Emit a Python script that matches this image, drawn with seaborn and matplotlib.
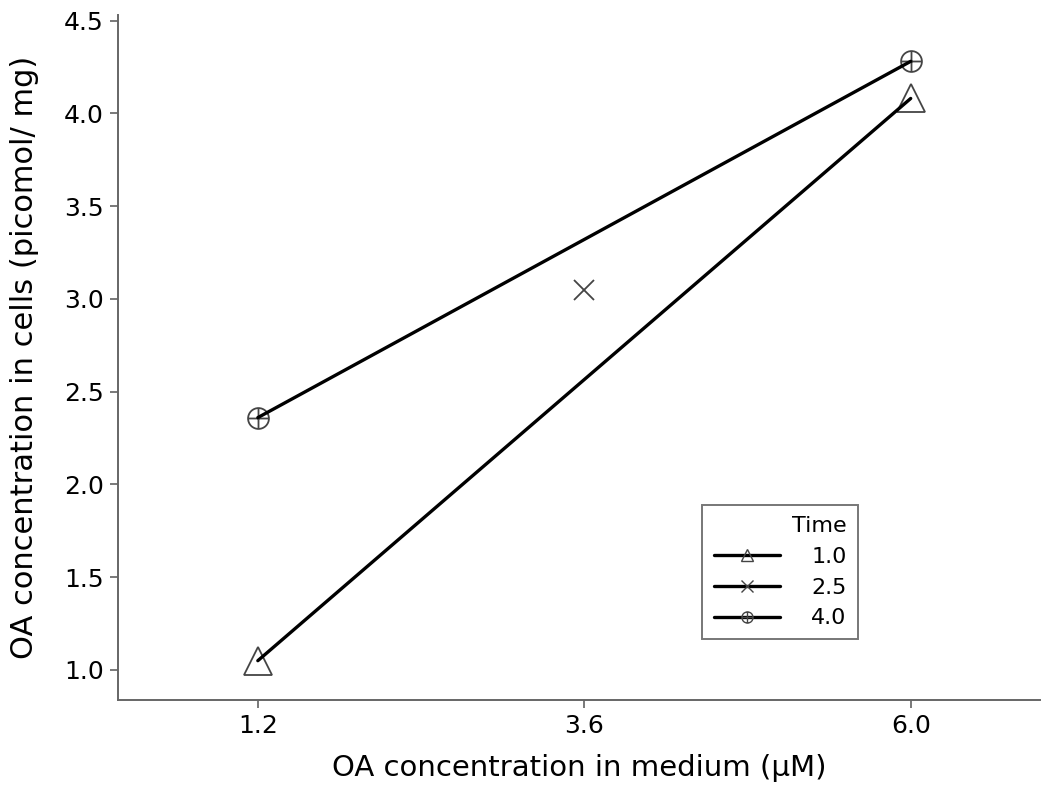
import seaborn as sns
import matplotlib.pyplot as plt
import pandas as pd
from matplotlib.path import Path
from matplotlib.lines import Line2D

# values
medium = [1.2, 6.0, 3.6, 1.2, 6.0]
cells = [1.05, 4.08, 3.05, 2.36, 4.28]
time = [1.0, 1.0, 2.5, 4.0, 4.0]
xticks = [1.2, 3.6, 6.0]
yticks = [1.0, 1.5, 2.0, 2.5, 3.0, 3.5, 4.0, 4.5]

data = pd.DataFrame({'medium': medium, 'cells': cells, 'Time': time})

sns.set_style('ticks')
plt.rcParams['font.family'] = ['DejaVu Sans']
plt.rcParams['text.color'] = 'black'
plt.rcParams['axes.labelcolor'] = 'black'

# circle with a cross inside
oplus = Path.make_compound_path(
    Path.unit_circle(),
    Path([[-1, 0], [1, 0]], [Path.MOVETO, Path.LINETO]),
    Path([[0, -1], [0, 1]], [Path.MOVETO, Path.LINETO]),
)
markers = {1.0: '^', 2.5: 'x', 4.0: oplus}
sizes = {1.0: 20, 2.5: 14, 4.0: 15}

fig = plt.figure(figsize=(10.42, 7.87), dpi=100)
ax = fig.add_axes([0.113, 0.111, 0.885, 0.87])

for t in [1.0, 2.5, 4.0]:
    sub = data[data['Time'] == t]
    ax.plot(sub['medium'], sub['cells'], linestyle='none', marker=markers[t],
            markersize=sizes[t], markerfacecolor='none', markeredgecolor='#444444',
            markeredgewidth=1.3, zorder=2)

sns.lineplot(data=data[data['Time'] != 2.5], x='medium', y='cells', units='Time',
             estimator=None, color='black', linewidth=2.4, ax=ax, zorder=3)

ax.set_xlim(0.17, 6.95)
ax.set_ylim(0.84, 4.53)
ax.set_xticks(xticks)
ax.set_xticklabels([f'{v:.1f}' for v in xticks])
ax.set_yticks(yticks)
ax.set_yticklabels([f'{v:.1f}' for v in yticks])
ax.tick_params(labelsize=18, length=6, width=1.1, color='#555555', labelcolor='black', pad=4)
ax.set_xlabel('OA concentration in medium (µM)', fontsize=21, labelpad=12)
ax.set_ylabel('OA concentration in cells (picomol/ mg)', fontsize=22, labelpad=18)
sns.despine(ax=ax)
for s in ['left', 'bottom']:
    ax.spines[s].set_color('#666666')
    ax.spines[s].set_linewidth(1.4)

handles = []
for t in [1.0, 2.5, 4.0]:
    handles.append(Line2D([], [], color='black', linewidth=2.4, marker=markers[t],
                          markersize=8, markerfacecolor='none',
                          markeredgecolor='#444444', markeredgewidth=1))
leg = ax.legend(handles, ['1.0', '2.5', '4.0'], title='Time', loc='lower left',
                bbox_to_anchor=(0.634, 0.088), borderaxespad=0, fontsize=16,
                title_fontsize=16, handlelength=3.0, handletextpad=1.4,
                frameon=True, fancybox=False, edgecolor='#555555',
                alignment='right', borderpad=0.5, labelspacing=0.48)
leg.get_frame().set_linewidth(1.4)

fig.savefig('out.png', dpi=100)
